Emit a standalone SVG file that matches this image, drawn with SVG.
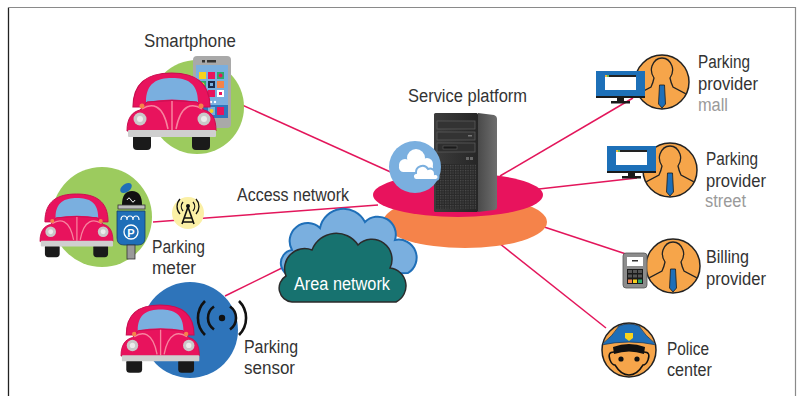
<svg xmlns="http://www.w3.org/2000/svg" width="798" height="396" viewBox="0 0 798 396">
  <style>
    .lbl { font-family: "Liberation Sans", Arial, sans-serif; font-size: 18px; fill: #333333; }
    .sub { fill: #9a9a9a; }
    .link { stroke: #e3165b; stroke-width: 1.5; fill: none; }
    .outline { stroke: #222222; stroke-width: 1.4; }
    .person { fill: #f6a54a; stroke: #222222; stroke-width: 1.5; }
    .silhouette { fill: none; stroke: #222222; stroke-width: 1.3; }
    .tie { fill: #1f6fb8; stroke: #1a1a1a; stroke-width: 0.8; }
  </style>
  <defs>
    <!-- Beetle-style car, 89 x 77 units -->
    <symbol id="car" viewBox="0 0 90 78" width="90" height="78" overflow="visible">
      <path d="M6,34 C6,8 22,0 44.5,0 C67,0 83,8 83,34 Z" fill="#e8135d" stroke="#c80f50" stroke-width="1.2"/>
      <path d="M19,29 C19,10 30,5 45,5 C60,5 71,10 71,29 Q45,24 19,29 Z" fill="#7aafdf"/>
      <path d="M0,58 C0,45 5,39 13,37 L20,29 Q45,26 70,29 L77,37 C85,39 89,45 89,58 Z" fill="#e8135d" stroke="#c80f50" stroke-width="1"/>
      <path d="M15,36 C24,30 36,30 41,56 M75,36 C66,30 54,30 49,56 M45,28 L45,57" fill="none" stroke="#f7849f" stroke-width="1.5"/>
      <circle cx="15" cy="33" r="2.5" fill="#f5834a"/>
      <circle cx="74" cy="33" r="2.5" fill="#f5834a"/>
      <circle cx="13" cy="46" r="6.5" fill="#c9c9c9"/>
      <circle cx="13" cy="46" r="3" fill="#ececec"/>
      <circle cx="77" cy="46" r="6.5" fill="#c9c9c9"/>
      <circle cx="77" cy="46" r="3" fill="#ececec"/>
      <rect x="6" y="61" width="18" height="16" rx="4" fill="#1a1a1a"/>
      <rect x="65" y="61" width="18" height="16" rx="4" fill="#1a1a1a"/>
      <rect x="1" y="57" width="88" height="7" rx="1" fill="#cfcfcf"/>
    </symbol>

    <!-- Person silhouette in an orange disc, centred on 0,0 -->
    <clipPath id="disc"><circle cx="0" cy="0" r="26.5"/></clipPath>
    <symbol id="person" overflow="visible">
      <circle cx="0" cy="0" r="27" class="person"/>
      <g clip-path="url(#disc)">
        <path class="silhouette" d="M-28,14 L-11,5 Q-9,1 -8,-4 Q-12,-10 -10,-16 Q-7,-24 0,-24 Q7,-24 10,-16 Q12,-10 8,-4 Q9,1 11,5 L28,14"/>
        <path class="tie" d="M-2.5,3 L2.5,3 L3.5,22 L0,26 L-3.5,22 Z"/>
      </g>
    </symbol>

    <!-- Desktop monitor, top-left at 0,0 -->
    <symbol id="monitor" overflow="visible">
      <rect x="0" y="0" width="49" height="25" fill="#1d70b8"/>
      <rect x="9" y="4" width="31" height="15" fill="#ffffff"/>
      <rect x="9" y="4" width="31" height="2" fill="#222222"/>
      <rect x="9" y="4" width="2" height="2" fill="#f5b335"/>
      <rect x="11" y="4" width="2" height="2" fill="#5cb85c"/>
      <rect x="0" y="25" width="49" height="2" fill="#1a1a1a"/>
      <rect x="21" y="27" width="7" height="4" fill="#1a1a1a"/>
      <rect x="15" y="30" width="19" height="2.5" fill="#1a1a1a"/>
    </symbol>

    <linearGradient id="towerFront" x1="0" y1="0" x2="1" y2="0">
      <stop offset="0" stop-color="#3c3c3c"/>
      <stop offset="1" stop-color="#262626"/>
    </linearGradient>
    <linearGradient id="towerSide" x1="0" y1="0" x2="1" y2="0">
      <stop offset="0" stop-color="#4a4a4a"/>
      <stop offset="1" stop-color="#6e6e6e"/>
    </linearGradient>
    <pattern id="vent" width="2.5" height="2.5" patternUnits="userSpaceOnUse">
      <rect width="2.5" height="2.5" fill="#2a2a2a"/>
      <rect width="1.2" height="1.2" fill="#4d4d4d"/>
    </pattern>
  </defs>

  <rect width="798" height="396" fill="#ffffff"/>
  <!-- frame -->
  <path d="M8.5,396 L8.5,7.5 L795.5,7.5 L795.5,396" fill="none" stroke="#8a8a8a" stroke-width="1.2"/>
  <line x1="8.5" y1="8" x2="8.5" y2="396" stroke="#222222" stroke-width="1.2"/>

  <!-- connectors -->
  <g id="connectors">
    <line class="link" x1="231" y1="100" x2="395" y2="174"/>
    <line class="link" x1="153" y1="222" x2="378" y2="205"/>
    <line class="link" x1="225" y1="296" x2="292" y2="263"/>
    <line class="link" x1="500" y1="176" x2="633" y2="98"/>
    <line class="link" x1="530" y1="190" x2="637" y2="178"/>
    <line class="link" x1="520" y1="219" x2="626" y2="254"/>
    <line class="link" x1="480" y1="228" x2="606" y2="328"/>
  </g>

  <!-- smartphone user -->
  <g id="smartphone">
    <circle cx="197" cy="107" r="47" fill="#9ccb5e"/>
    <rect x="193" y="56" width="38" height="72" rx="4" fill="#a9a9a9"/>
    <rect x="196" y="65" width="32" height="53" fill="#7aafdf"/>
    <rect x="196" y="105" width="32" height="13" fill="#2f76bd"/>
    <rect x="202" y="60" width="3" height="2.5" fill="#333"/>
    <rect x="207" y="60" width="9" height="2.5" fill="#333"/>
    <rect x="199" y="72" width="7" height="7" fill="#f7d21b"/>
    <rect x="208" y="72" width="7" height="7" fill="#e8135d"/>
    <rect x="217" y="72" width="7" height="7" fill="#2ea86a"/>
    <circle cx="220.5" cy="75.5" r="2" fill="#e8135d"/>
    <rect x="199" y="81" width="7" height="7" fill="#2ea86a"/>
    <circle cx="202.5" cy="84.5" r="2" fill="#f7d21b"/>
    <rect x="208" y="81" width="7" height="7" fill="#1b2a4a"/>
    <rect x="210" y="83" width="3" height="3" fill="#7aafdf"/>
    <rect x="217" y="81" width="7" height="7" fill="#f5834a"/>
    <rect x="199" y="90" width="7" height="7" fill="#2f76bd"/>
    <rect x="200.5" y="92" width="3" height="3" fill="#ffffff"/>
    <rect x="208" y="90" width="7" height="7" fill="#e8135d"/>
    <rect x="217" y="90" width="7" height="7" fill="#ffffff"/>
    <rect x="219" y="92" width="3" height="3" fill="#e8135d"/>
    <circle cx="207" cy="102" r="1.2" fill="#333"/>
    <circle cx="211" cy="102" r="1.2" fill="#fff"/>
    <circle cx="215" cy="102" r="1.2" fill="#fff"/>
    <rect x="208" y="107" width="7" height="8" fill="#7aafdf"/>
    <circle cx="211.5" cy="111" r="2" fill="#f7d21b"/>
    <rect x="217" y="107" width="7" height="8" fill="#e8135d"/>
    <use href="#car" x="127" y="73" width="90" height="78"/>
    <text class="lbl" x="144" y="47" textLength="92" lengthAdjust="spacingAndGlyphs">Smartphone</text>
  </g>

  <!-- parking meter -->
  <g id="parking-meter">
    <circle cx="102" cy="217" r="50" fill="#9ccb5e"/>
    <use href="#car" transform="translate(40,194) scale(0.82)" width="90" height="78"/>
    <ellipse cx="126" cy="188" rx="6.5" ry="4" transform="rotate(-35 126 188)" fill="#1f6fb8"/>
    <path d="M122,205 Q122,191 132,191 Q142,191 142,205 Z" fill="#111111"/>
    <path d="M127,200 q2,-4 4,0 t4,0" fill="none" stroke="#ffffff" stroke-width="1"/>
    <rect x="118" y="205" width="27" height="4" fill="#bdbdbd" stroke="#333" stroke-width="0.8"/>
    <path d="M117,211 L145,211 L145,238 Q145,245 138,245 L124,245 Q117,245 117,238 Z" fill="#1f6fb8" stroke="#163d66" stroke-width="0.8"/>
    <path d="M121,220 q0,-4 3,-4 q3,0 3,4 M127,220 q0,-4 3,-4 q3,0 3,4 M133,220 q0,-4 3,-4 q3,0 3,4" fill="none" stroke="#ffffff" stroke-width="1.2"/>
    <circle cx="131" cy="232" r="7" fill="none" stroke="#ffffff" stroke-width="1.3"/>
    <text x="131" y="236.5" text-anchor="middle" font-family="Liberation Sans, Arial, sans-serif" font-size="11" font-weight="bold" fill="#ffffff">P</text>
    <rect x="127" y="245" width="8" height="14" fill="#9a9a9a" stroke="#333" stroke-width="0.8"/>
    <!-- radio antenna -->
    <circle cx="188" cy="213" r="16" fill="#fbf0a6"/>
    <path d="M188,207 L182,224 M188,207 L194,224 M184.5,218 L191.5,218 M183,222 L193,222" stroke="#111" stroke-width="1.6" fill="none"/>
    <circle cx="188" cy="206" r="2" fill="#111"/>
    <path d="M183,202 a7,7 0 0 0 0,9 M193,202 a7,7 0 0 1 0,9 M180,199 a11,11 0 0 0 0,15 M196,199 a11,11 0 0 1 0,15" fill="none" stroke="#111" stroke-width="1.3"/>
    <text class="lbl" x="152" y="253" textLength="53" lengthAdjust="spacingAndGlyphs">Parking</text>
    <text class="lbl" x="152" y="274" textLength="44" lengthAdjust="spacingAndGlyphs">meter</text>
  </g>

  <!-- parking sensor -->
  <g id="parking-sensor">
    <circle cx="190" cy="330" r="48" fill="#2e74ba"/>
    <use href="#car" transform="translate(121,305) scale(0.88)" width="90" height="78"/>
    <circle cx="222" cy="318" r="3.2" fill="#111"/>
    <path d="M205,301 A24,24 0 0 0 205,335 M239,301 A24,24 0 0 1 239,335 M214,306.5 A14,14 0 0 0 214,329.5 M230,306.5 A14,14 0 0 1 230,329.5" fill="none" stroke="#111" stroke-width="2.6"/>
    <text class="lbl" x="244" y="353" textLength="54" lengthAdjust="spacingAndGlyphs">Parking</text>
    <text class="lbl" x="244" y="374" textLength="51" lengthAdjust="spacingAndGlyphs">sensor</text>
  </g>

  <!-- access network label -->
  <g id="access-network">
    <text class="lbl" x="237" y="201" textLength="112" lengthAdjust="spacingAndGlyphs">Access network</text>
  </g>

  <!-- service platform -->
  <g id="service-platform">
    <ellipse cx="465" cy="222" rx="82" ry="26" fill="#f5834a"/>
    <ellipse cx="458" cy="195" rx="85" ry="22" fill="#e8135d"/>
    <path d="M478,113 L494,115 Q497,116 497,119 L497,207 Q497,210 494,210 L478,212 Z" fill="url(#towerSide)"/>
    <rect x="434" y="113" width="44" height="99" rx="1.5" fill="url(#towerFront)"/>
    <rect x="437" y="121" width="38" height="8" fill="#333" stroke="#5a5a5a" stroke-width="0.8"/>
    <rect x="437" y="132" width="38" height="8" fill="#333" stroke="#5a5a5a" stroke-width="0.8"/>
    <rect x="468" y="135" width="4" height="1.5" fill="#777"/>
    <rect x="437" y="143" width="38" height="9" fill="#2f2f2f" stroke="#5a5a5a" stroke-width="0.8"/>
    <rect x="443" y="146" width="14" height="3" fill="#1a1a1a" stroke="#666" stroke-width="0.5"/>
    <rect x="466" y="157" width="3" height="3" fill="#666"/>
    <rect x="470" y="157" width="3" height="3" fill="#666"/>
    <rect x="436" y="164" width="40" height="45" fill="url(#vent)"/>
    <circle cx="415" cy="167" r="26" fill="#7aafdf"/>
    <g fill="#ffffff">
      <circle cx="405" cy="165" r="6"/>
      <circle cx="416" cy="158" r="9"/>
      <circle cx="427" cy="164" r="6"/>
      <rect x="399" y="163" width="34" height="9" rx="4.5"/>
    </g>
    <g fill="#ffffff" stroke="#7aafdf" stroke-width="2">
      <path d="M417,180 a3.5,3.5 0 0 1 -1,-7 a6.5,6.5 0 0 1 12,-4 a5,5 0 0 1 7,5 a3,3 0 0 1 1,6 Z"/>
    </g>
    <text class="lbl" x="408" y="102" textLength="119" lengthAdjust="spacingAndGlyphs">Service platform</text>
  </g>

  <!-- area network -->
  <g id="area-network">
    <path d="M296,276 A13,13 0 0 1 292,250 A18,18 0 0 1 320,228 A24,24 0 0 1 365,222 A18,18 0 0 1 395,240 A18,18 0 0 1 408,273 Z" fill="#7aafdf" stroke="#1f6fb8" stroke-width="2"/>
    <path d="M292,302 A14,14 0 0 1 286,276 A20,20 0 0 1 312,250 A26,26 0 0 1 358,245 A20,20 0 0 1 390,268 A18,18 0 0 1 396,302 Z" fill="#17726f" stroke="#2b2b2b" stroke-width="1.5"/>
    <text class="lbl" x="294" y="290" fill="#ffffff" style="fill:#ffffff" textLength="96" lengthAdjust="spacingAndGlyphs">Area network</text>
  </g>

  <!-- parking provider, mall -->
  <g id="provider-mall">
    <use href="#person" x="662" y="82"/>
    <use href="#monitor" x="596" y="71"/>
    <text class="lbl" x="698" y="68" textLength="52" lengthAdjust="spacingAndGlyphs">Parking</text>
    <text class="lbl" x="698" y="90" textLength="60" lengthAdjust="spacingAndGlyphs">provider</text>
    <text class="lbl sub" x="698" y="111" textLength="30" lengthAdjust="spacingAndGlyphs">mall</text>
  </g>

  <!-- parking provider, street -->
  <g id="provider-street">
    <use href="#person" x="670" y="170"/>
    <use href="#monitor" x="607" y="146"/>
    <text class="lbl" x="706" y="165" textLength="52" lengthAdjust="spacingAndGlyphs">Parking</text>
    <text class="lbl" x="706" y="187" textLength="60" lengthAdjust="spacingAndGlyphs">provider</text>
    <text class="lbl sub" x="705" y="207" textLength="41" lengthAdjust="spacingAndGlyphs">street</text>
  </g>

  <!-- billing provider -->
  <g id="billing-provider">
    <use href="#person" x="673" y="266"/>
    <rect x="623" y="253" width="24" height="35" rx="3" fill="#8c8c8c" stroke="#555" stroke-width="0.8"/>
    <rect x="627" y="257" width="16" height="9" fill="#ffffff"/>
    <rect x="632" y="260" width="6" height="1.5" fill="#333"/>
    <rect x="627" y="269" width="16" height="15" fill="#1a1a1a"/>
    <g fill="#555">
      <rect x="628" y="270" width="4" height="3"/>
      <rect x="633" y="270" width="4" height="3"/>
      <rect x="638" y="270" width="4" height="3"/>
      <rect x="628" y="274.5" width="4" height="3"/>
      <rect x="633" y="274.5" width="4" height="3"/>
      <rect x="638" y="274.5" width="4" height="3"/>
    </g>
    <rect x="628" y="279.5" width="4" height="3.5" fill="#f5834a"/>
    <rect x="633" y="279.5" width="4" height="3.5" fill="#f7d21b"/>
    <rect x="638" y="279.5" width="4" height="3.5" fill="#2ea86a"/>
    <text class="lbl" x="706" y="263" textLength="43" lengthAdjust="spacingAndGlyphs">Billing</text>
    <text class="lbl" x="706" y="285" textLength="60" lengthAdjust="spacingAndGlyphs">provider</text>
  </g>

  <!-- police center -->
  <g id="police-center">
    <circle cx="629" cy="350" r="27" class="person"/>
    <g transform="translate(629,350)">
      <g clip-path="url(#disc)">
        <path d="M-28,-5 Q-16,-14 -10,-24 Q0,-28 10,-24 Q16,-14 28,-5 Q0,-11 -28,-5 Z" fill="#1f6fb8" stroke="#163d66" stroke-width="0.8"/>
      </g>
      <path d="M-4,-17 L4,-17 L4,-12 L0,-9 L-4,-12 Z" fill="#f7d21b"/>
      <path d="M-16,-3 Q0,-9 16,-3 L15,4 Q0,-1 -15,4 Z" fill="#111111"/>
      <path d="M-15,2 Q-22,2 -19,10 Q-17,15 -14,15 Q-8,25 0,25 Q8,25 14,15 Q17,15 19,10 Q22,2 15,2" fill="none" stroke="#111111" stroke-width="1.5"/>
      <circle cx="-8" cy="9" r="2.6" fill="#111"/>
      <circle cx="8" cy="9" r="2.6" fill="#111"/>
    </g>
    <text class="lbl" x="667" y="355" textLength="42" lengthAdjust="spacingAndGlyphs">Police</text>
    <text class="lbl" x="667" y="376" textLength="45" lengthAdjust="spacingAndGlyphs">center</text>
  </g>
</svg>
